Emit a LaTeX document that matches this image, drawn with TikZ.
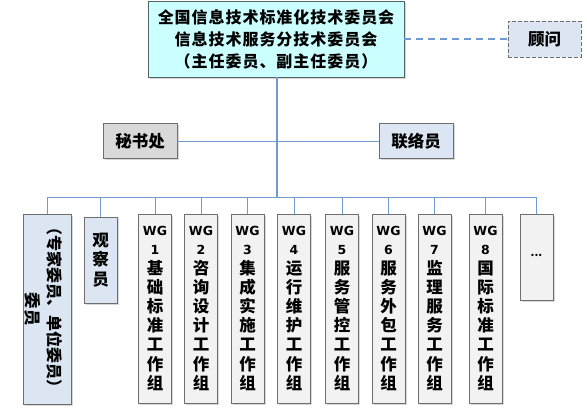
\documentclass[tikz,border=0pt]{standalone}
\usepackage{fontspec}
\setmainfont{Noto Sans CJK SC}
\newfontfamily\latfont{DejaVu Sans}
\newcommand\lat[1]{{\latfont\bfseries\fontsize{12.5}{19}\selectfont #1}}
\usetikzlibrary{shadows}
\definecolor{lineblue}{RGB}{110,155,210}
\definecolor{boxgray}{RGB}{110,110,110}
\definecolor{topfill}{RGB}{204,255,255}
\definecolor{topborder}{RGB}{80,100,100}
\definecolor{lblue}{RGB}{220,230,242}
\definecolor{lgray}{RGB}{242,242,242}
\definecolor{mgray}{RGB}{217,217,217}
\tikzset{
  box/.style={draw=boxgray, line width=0.8pt, inner sep=0pt, align=center,
    font=\bfseries\fontsize{16.5}{19.2}\selectfont,
    drop shadow={shadow xshift=1.5pt, shadow yshift=-1.5pt, fill=black!30, opacity=0.5}},
  wgbox/.style={box, fill=lgray, minimum width=33pt, minimum height=189pt},
  conn/.style={draw=lineblue, line width=0.8pt},
}
\begin{document}
\begin{tikzpicture}[x=1pt,y=-1pt]
\useasboundingbox (0,0) rectangle (587,408);
% top
\node[box, draw=topborder, fill=topfill, minimum width=256pt, minimum height=76pt,
  font=\bfseries\fontsize{16}{22}\selectfont\addfontfeature{LetterSpace=6}] (top) at (276,39)
  {全国信息技术标准化技术委员会\\信息技术服务分技术委员会\\（主任委员、副主任委员）};
\node[draw=boxgray, dashed, dash pattern=on 4pt off 2pt, line width=0.8pt, fill=lblue,
  minimum width=73pt, minimum height=36pt, inner sep=0pt,
  font=\bfseries\fontsize{16.5}{19}\selectfont] (guwen) at (544.5,39) {顾问};
\draw[draw=lineblue, line width=1.2pt, dash pattern=on 7pt off 5pt] (top.east) -- (guwen.west);
% middle
\node[box, fill=mgray, minimum width=74pt, minimum height=35pt] (mishu) at (140,141) {秘书处};
\node[box, fill=lblue, minimum width=74pt, minimum height=35pt] (lianluo) at (416,141) {联络员};
\coordinate (bus) at (277,197);
\draw[draw=lineblue, line width=1.3pt] (top.south -| bus) -- (bus);
\draw[conn] (mishu.east) -- (lianluo.west);
% bottom boxes
\node[box, fill=lblue, minimum width=48pt, minimum height=190pt] (wy) at (47,309) {};
\node[rotate=-90, font=\bfseries\fontsize{16}{19}\selectfont, inner sep=0pt] (wy1) at (55,307) {（专家委员、单位委员）};
\node[rotate=-90, font=\bfseries\fontsize{16.5}{19}\selectfont, inner sep=0pt] (wy2) at (33,309) {委员};
\node[box, fill=lblue, minimum width=33pt, minimum height=86pt] (gc) at (100.5,260) {观\\察\\员};
\node[wgbox] (w1) at (155,308.5) {\lat{WG}\\\lat{1}\\基\\础\\标\\准\\工\\作\\组};
\node[wgbox] (w2) at (201,308.5) {\lat{WG}\\\lat{2}\\咨\\询\\设\\计\\工\\作\\组};
\node[wgbox] (w3) at (247.5,308.5) {\lat{WG}\\\lat{3}\\集\\成\\实\\施\\工\\作\\组};
\node[wgbox] (w4) at (294,308.5) {\lat{WG}\\\lat{4}\\运\\行\\维\\护\\工\\作\\组};
\node[wgbox] (w5) at (342,308.5) {\lat{WG}\\\lat{5}\\服\\务\\管\\控\\工\\作\\组};
\node[wgbox] (w6) at (388.5,308.5) {\lat{WG}\\\lat{6}\\服\\务\\外\\包\\工\\作\\组};
\node[wgbox] (w7) at (434.5,308.5) {\lat{WG}\\\lat{7}\\监\\理\\服\\务\\工\\作\\组};
\node[wgbox] (w8) at (485.5,308.5) {\lat{WG}\\\lat{8}\\国\\际\\标\\准\\工\\作\\组};
\node[box, fill=lgray, minimum width=33pt, minimum height=86pt] (dots) at (536.5,257) {\raisebox{3pt}{\fontsize{11}{11}\selectfont ...}};
% bus
\draw[conn] (wy.north |- bus) -- (dots.north |- bus);
\foreach \n in {wy,gc,w1,w2,w3,w4,w5,w6,w7,w8,dots}
  \draw[conn] (\n.north |- bus) -- (\n.north);
\end{tikzpicture}
\end{document}
